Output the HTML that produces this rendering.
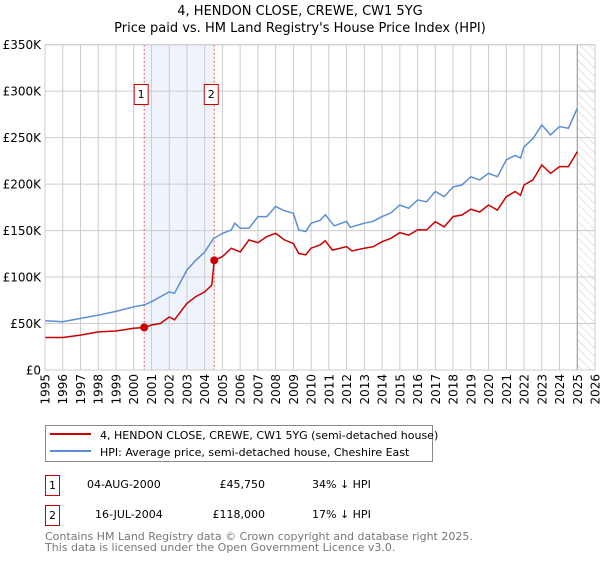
<!DOCTYPE html>
<html><head><meta charset="utf-8"><style>
body{margin:0;background:#fff;font-family:"DejaVu Sans","Liberation Sans",sans-serif;}
svg text{font-family:"DejaVu Sans","Liberation Sans",sans-serif;}
</style></head><body>
<svg id="c" width="600" height="560" xmlns="http://www.w3.org/2000/svg">
<defs><pattern id="hatch" width="6" height="6" patternUnits="userSpaceOnUse" patternTransform="rotate(-45)"><line x1="0" y1="0" x2="0" y2="6" stroke="#ccc" stroke-width="1"/></pattern></defs>
<text x="300" y="15" text-anchor="middle" font-size="13">4, HENDON CLOSE, CREWE, CW1 5YG</text>
<text x="300" y="32" text-anchor="middle" font-size="13">Price paid vs. HM Land Registry's House Price Index (HPI)</text>
<g id="plot"></g>
<g>
<rect x="45.5" y="425.5" width="387" height="36" fill="#fff" stroke="#888"/>
<line x1="50" y1="434" x2="91" y2="434" stroke="#cc0000" stroke-width="2"/>
<text x="100" y="439" font-size="11">4, HENDON CLOSE, CREWE, CW1 5YG (semi-detached house)</text>
<line x1="50" y1="451" x2="91" y2="451" stroke="#5b8ed6" stroke-width="2"/>
<text x="100" y="456" font-size="11">HPI: Average price, semi-detached house, Cheshire East</text>
</g>
<g font-size="11">
<rect x="45.5" y="475.5" width="14" height="20" fill="#fff" stroke="#cc0000"/>
<text x="52.5" y="489" text-anchor="middle">1</text>
<text x="87" y="488">04-AUG-2000</text>
<text x="265" y="488" text-anchor="end">£45,750</text>
<text x="312" y="488">34% ↓ HPI</text>
<rect x="45.5" y="505.5" width="14" height="20" fill="#fff" stroke="#cc0000"/>
<text x="52.5" y="519" text-anchor="middle">2</text>
<text x="95" y="518">16-JUL-2004</text>
<text x="265" y="518" text-anchor="end">£118,000</text>
<text x="312" y="518">17% ↓ HPI</text>
</g>
<text x="45" y="540" font-size="11" fill="#777">Contains HM Land Registry data © Crown copyright and database right 2025.</text>
<text x="45" y="551" font-size="11" fill="#777">This data is licensed under the Open Government Licence v3.0.</text>
</svg>
<script>
const hpiYears=[1995,1996,1997,1998,1999,2000,2000.6,2001,2002,2002.3,2003,2003.5,2004,2004.5,2005,2005.5,2005.7,2006,2006.5,2007,2007.5,2008,2008.4,2009,2009.3,2009.7,2010,2010.5,2010.8,2011.3,2012,2012.2,2013,2013.5,2014,2014.5,2015,2015.5,2016,2016.5,2017,2017.5,2018,2018.5,2019,2019.5,2020,2020.5,2021,2021.5,2021.8,2022,2022.5,2023,2023.5,2024,2024.5,2025];
const hpiValues=[53,52,55.5,59,63,68,70,73.5,84,82.5,107.5,118,127,141.5,147,150.6,158,152.5,152.5,165,165,176,172,168.6,150.6,149,158,161,167,155,160,153.5,158,160,165,169,177.5,174,183,181,192,186.5,197,199,208,204.5,211.6,208,226,231,228,240,249,263.6,253,262,260,281.6];
const ppYears=[1995,1996,1997,1998,1999,2000,2000.6,2001,2001.5,2002,2002.3,2003,2003.5,2004,2004.4,2004.54,2005,2005.5,2006,2006.5,2007,2007.5,2008,2008.5,2009,2009.3,2009.7,2010,2010.5,2010.8,2011.2,2012,2012.3,2013,2013.5,2014,2014.5,2015,2015.5,2016,2016.5,2017,2017.5,2018,2018.5,2019,2019.5,2020,2020.5,2021,2021.5,2021.8,2022,2022.5,2023,2023.5,2024,2024.5,2025];
const ppValues=[35,35,37.6,41,42,45,45.75,48.4,50,57,54,71.7,79,84,91.5,118,122,131,127,140,137,143.5,147,140,136,125.5,124,131,134.5,139,129,132.7,128,131,132.7,138,141.7,147.8,145,151,150.6,159.6,154,165,166.8,173,170,177.5,172,186.5,192,188,199,204.5,220.6,211.6,218.8,218.8,235];
const saleYears=[2000.59,2004.54];
const saleValues=[45.75,118];
const saleLabels=["1","2"];
const yTicks=[0,50,100,150,200,250,300,350];
const yTickLabels=["£0","£50K","£100K","£150K","£200K","£250K","£300K","£350K"];
const xTicks=[];for(let y=1995;y<=2026;y++)xTicks.push(y);

const L=45,R=595,T=44.7,B=370,Y0=1995,Y1=2026,VMAX=350;
const xs=y=>L+(y-Y0)/(Y1-Y0)*(R-L);
const ys=v=>B-v/VMAX*(B-T);
const NS="http://www.w3.org/2000/svg";
const g=document.getElementById('plot');
function mk(tag,attrs){const e=document.createElementNS(NS,tag);for(const k in attrs)e.setAttribute(k,attrs[k]);g.appendChild(e);return e;}

let e=mk('rect',{x:xs(saleYears[0]),y:T,width:xs(saleYears[1])-xs(saleYears[0]),height:B-T,fill:'#eef3fc'});


e=mk('rect',{x:xs(2025),y:T,width:R-xs(2025),height:B-T,fill:'url(#hatch)'});


xTicks.forEach(t=>{
  const l=mk('line',{x1:xs(t),x2:xs(t),y1:T,y2:B,stroke:'#ccc','stroke-width':1});
  
  
  const tx=mk('text',{x:0,y:0,'font-size':12,'text-anchor':'end',transform:`translate(${xs(t)+4.5},${B+4}) rotate(-90)`});
  tx.textContent=t;
  
  
});
yTicks.forEach((t,i)=>{
  const l=mk('line',{x1:L,x2:R,y1:ys(t),y2:ys(t),stroke:'#ccc','stroke-width':1});
  
  
  const tx=mk('text',{x:L-4,y:ys(t)+4.5,'font-size':12,'text-anchor':'end'});
  tx.textContent=yTickLabels[i];
  
  
});
e=mk('line',{x1:xs(2025),x2:xs(2025),y1:T,y2:B,stroke:'#999','stroke-width':1});


saleYears.forEach((s,i)=>{
  const l=mk('line',{x1:xs(s),x2:xs(s),y1:T,y2:B,stroke:'#e06060','stroke-width':1,'stroke-dasharray':'2,2'});
  
  
  const r=mk('rect',{x:xs(s)-7-3,y:84.5,width:14,height:20,fill:'#fff',stroke:'#cc0000'});
  
  
  const tx=mk('text',{x:xs(s)-3,y:98,'font-size':11,'text-anchor':'middle'});
  tx.textContent=saleLabels[i];
  
  
});
const path=(xsA,vs)=>xsA.map((y,i)=>(i?'L':'M')+xs(y).toFixed(1)+','+ys(vs[i]).toFixed(1)).join('');
e=mk('path',{d:path(hpiYears,hpiValues),fill:'none',stroke:'#5b8ed6','stroke-width':1.5});


e=mk('path',{d:path(ppYears,ppValues),fill:'none',stroke:'#cc0000','stroke-width':1.5});


saleYears.forEach((s,i)=>{
  const c=mk('circle',{cx:xs(s),cy:ys(saleValues[i]),r:4,fill:'#cc0000'});
  
  
});
e=mk('rect',{x:L,y:T,width:R-L,height:B-T,fill:'none',stroke:'#ccc'});


</script>
</body></html>
